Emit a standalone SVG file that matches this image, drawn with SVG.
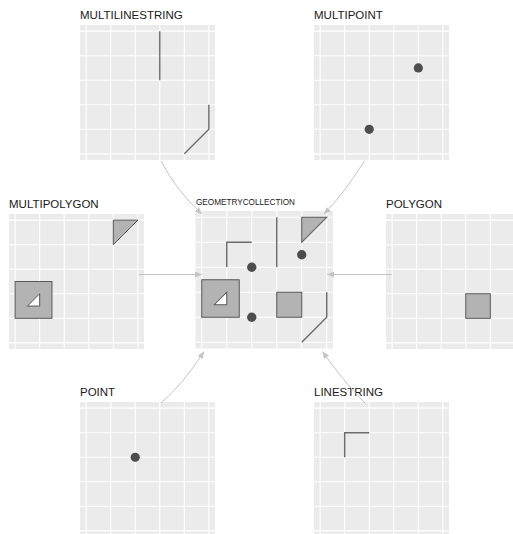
<svg xmlns="http://www.w3.org/2000/svg" xmlns:xlink="http://www.w3.org/1999/xlink" width="513" height="534" viewBox="0 0 513 534">
<style>
.title{font-family:"Liberation Sans",Arial,sans-serif;font-size:11.5px;fill:#1a1a1a}
.small{font-family:"Liberation Sans",Arial,sans-serif;font-size:8.2px;fill:#1a1a1a}
.bg{fill:#ebebeb}
.gl{stroke:#ffffff;stroke-width:1.1}
.ln{fill:none;stroke:#6b6b6b;stroke-width:1.4}
.pt{fill:#4d4d4d}
.pg{fill:#b3b3b3;stroke:#595959;stroke-width:1}
.hole{fill:#ffffff;stroke:#595959;stroke-width:1}
.conn{fill:none;stroke:#c4c4c4;stroke-width:1}
</style>
<defs>
<marker id="ah" markerUnits="userSpaceOnUse" markerWidth="7" markerHeight="6" refX="7" refY="3" orient="auto">
<path d="M0,0 L7,3 L0,6 Z" fill="#c4c4c4"/>
</marker>
<g id="grid">
<rect class="bg" x="0" y="0" width="135" height="135"/>
<g class="gl">
<line x1="6.14" y1="0" x2="6.14" y2="135"/>
<line x1="30.68" y1="0" x2="30.68" y2="135"/>
<line x1="55.23" y1="0" x2="55.23" y2="135"/>
<line x1="79.77" y1="0" x2="79.77" y2="135"/>
<line x1="104.32" y1="0" x2="104.32" y2="135"/>
<line x1="128.86" y1="0" x2="128.86" y2="135"/>
<line x1="0" y1="6.14" x2="135" y2="6.14"/>
<line x1="0" y1="30.68" x2="135" y2="30.68"/>
<line x1="0" y1="55.23" x2="135" y2="55.23"/>
<line x1="0" y1="79.77" x2="135" y2="79.77"/>
<line x1="0" y1="104.32" x2="135" y2="104.32"/>
<line x1="0" y1="128.86" x2="135" y2="128.86"/>
</g>
</g>
<g id="s-mls">
<path class="ln" d="M79.77,6.14 V55.23"/>
<path class="ln" d="M128.86,79.77 V104.32 L104.32,128.86"/>
</g>
<g id="s-mp">
<circle class="pt" cx="104.32" cy="42.95" r="4.6"/>
<circle class="pt" cx="55.23" cy="104.32" r="4.6"/>
</g>
<g id="s-mpoly">
<path class="pg" d="M104.32,6.14 H128.86 L104.32,30.68 Z"/>
<rect class="pg" x="6.14" y="67.5" width="36.81" height="36.82"/>
<path class="hole" d="M18.41,92.05 L30.68,79.77 V92.05 Z"/>
</g>
<g id="s-poly">
<rect class="pg" x="79.77" y="79.77" width="24.55" height="24.55"/>
</g>
<g id="s-pt">
<circle class="pt" cx="55.23" cy="55.23" r="4.6"/>
</g>
<g id="s-ls">
<path class="ln" d="M55.23,30.68 H30.68 V55.23"/>
</g>
</defs>

<g id="multilinestring">
<text class="title" x="80" y="19">MULTILINESTRING</text>
<g transform="translate(80,25)"><use xlink:href="#grid"/><use xlink:href="#s-mls"/></g>
</g>

<g id="multipoint">
<text class="title" x="314" y="19">MULTIPOINT</text>
<g transform="translate(314,25)"><use xlink:href="#grid"/><use xlink:href="#s-mp"/></g>
</g>

<g id="multipolygon">
<text class="title" x="9" y="207.5">MULTIPOLYGON</text>
<g transform="translate(9,214)"><use xlink:href="#grid"/><use xlink:href="#s-mpoly"/></g>
</g>

<g id="polygon">
<text class="title" x="386" y="207.5">POLYGON</text>
<g transform="translate(386,214)"><use xlink:href="#grid"/><use xlink:href="#s-poly"/></g>
</g>

<g id="geometrycollection">
<text class="small" x="196" y="205">GEOMETRYCOLLECTION</text>
<g transform="translate(195.5,211) scale(1.0185)">
<use xlink:href="#grid"/>
<use xlink:href="#s-mls"/>
<use xlink:href="#s-mp"/>
<use xlink:href="#s-mpoly"/>
<use xlink:href="#s-poly"/>
<use xlink:href="#s-pt"/>
<use xlink:href="#s-ls"/>
</g>
</g>

<g id="point">
<text class="title" x="80" y="396">POINT</text>
<g transform="translate(80,402)"><use xlink:href="#grid"/><use xlink:href="#s-pt"/></g>
</g>

<g id="linestring">
<text class="title" x="314" y="396">LINESTRING</text>
<g transform="translate(314,402)"><use xlink:href="#grid"/><use xlink:href="#s-ls"/></g>
</g>

<g id="connectors">
<path class="conn" marker-end="url(#ah)" d="M161,161 Q176.5,191 202,214"/>
<path class="conn" marker-end="url(#ah)" d="M364.5,161 Q342,196 324,214"/>
<path class="conn" marker-end="url(#ah)" d="M139,274.5 L202,274.5"/>
<path class="conn" marker-end="url(#ah)" d="M392,274.5 L327,274.5"/>
<path class="conn" marker-end="url(#ah)" d="M161,403 Q184,383 204,351.5"/>
<path class="conn" marker-end="url(#ah)" d="M365,403 Q343,381 322.5,351.5"/>
</g>
</svg>
